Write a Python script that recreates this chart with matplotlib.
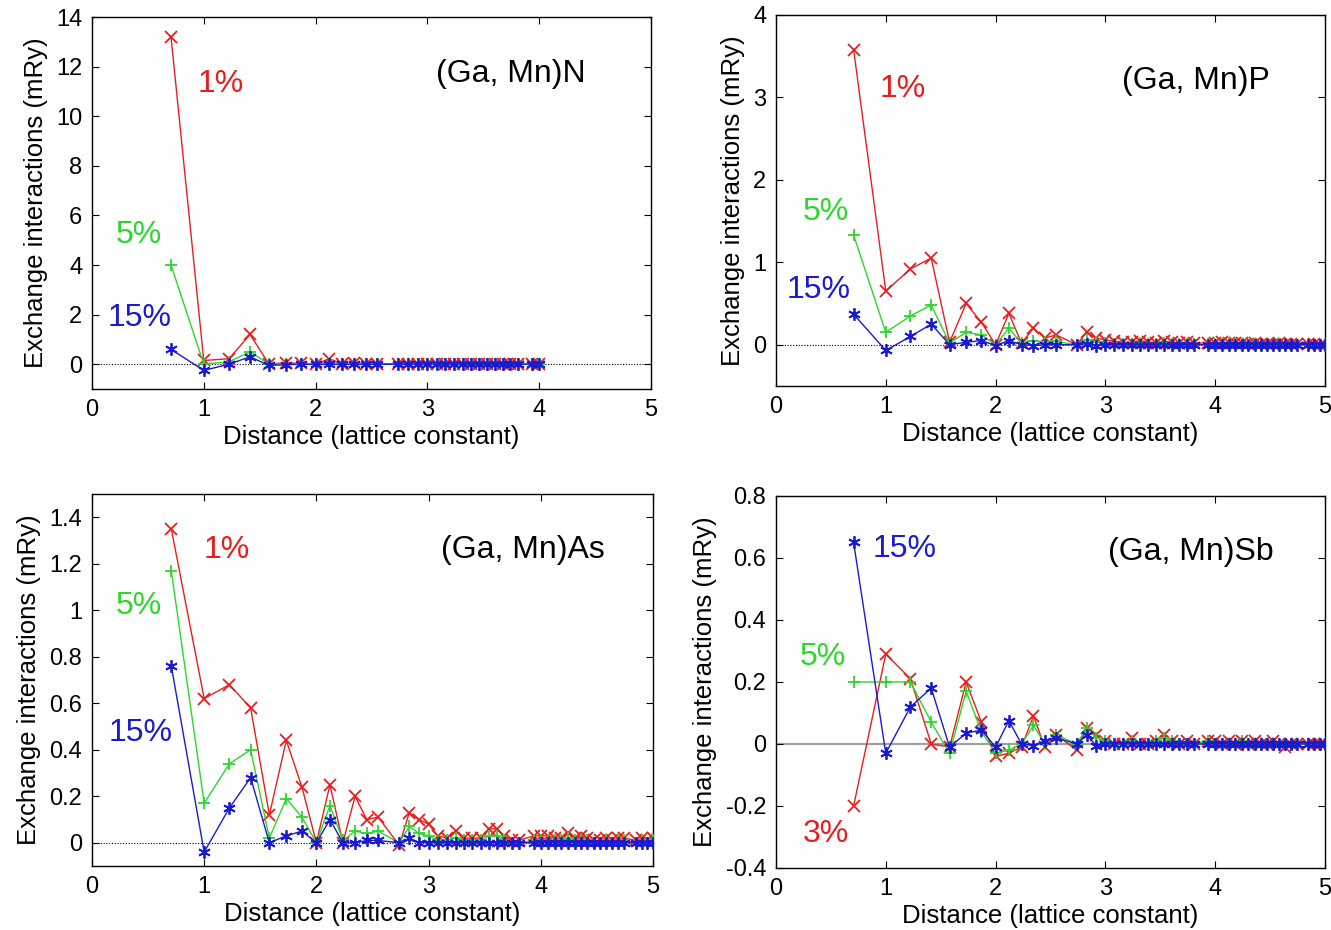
import matplotlib
matplotlib.use("Agg")
import matplotlib.pyplot as plt

plt.rcParams['font.family'] = ['Liberation Sans', 'DejaVu Sans']

# neighbour-shell distances (lattice constants)
distance = [0.707, 1.000, 1.225, 1.414, 1.581, 1.732, 1.871, 2.000, 2.121, 2.236,
            2.345, 2.449, 2.550, 2.739, 2.828, 2.915, 3.000, 3.082, 3.162, 3.240,
            3.317, 3.391, 3.464, 3.536, 3.606, 3.674, 3.742, 3.808, 3.937, 4.000,
            4.062, 4.123, 4.183, 4.243, 4.301, 4.359, 4.416, 4.472, 4.528, 4.583,
            4.637, 4.690, 4.743, 4.848, 4.899, 4.950, 5.000]

# (Ga,Mn)N  (30 shells, up to 4.0)
gan_1 = [13.2, 0.15, 0.22, 1.2, 0.02, 0.05, 0.03, 0.0, 0.22, 0.02,
         0.03, 0.01, 0.02, 0.01, 0.02, 0.01, 0.0, 0.01, 0.0, 0.0,
         0.01, 0.0, 0.0, 0.0, 0.0, 0.0, 0.0, 0.0, 0.0, 0.0]
gan_5 = [4.0, 0.0, 0.1, 0.5, 0.0, 0.02, 0.01, 0.0, 0.05, 0.0,
         0.01, 0.0, 0.0, 0.0, 0.01, 0.0, 0.0, 0.0, 0.0, 0.0,
         0.0, 0.0, 0.0, 0.0, 0.0, 0.0, 0.0, 0.0, 0.0, 0.0]
gan_15 = [0.6, -0.25, 0.0, 0.3, -0.05, -0.02, 0.0, -0.01, 0.0, -0.01,
          0.0, -0.01, 0.0, 0.0, 0.0, 0.0, 0.0, 0.0, 0.0, 0.0,
          0.0, 0.0, 0.0, 0.0, 0.0, 0.0, 0.0, 0.0, 0.0, 0.0]

# (Ga,Mn)P
gap_1 = [3.58, 0.65, 0.92, 1.05, 0.03, 0.5, 0.27, 0.0, 0.38, 0.02,
         0.2, 0.08, 0.12, 0.0, 0.15, 0.08, 0.06, 0.04, 0.03, 0.03,
         0.05, 0.03, 0.02, 0.04, 0.03, 0.02, 0.03, 0.02, 0.02, 0.02,
         0.03, 0.02, 0.02, 0.02, 0.01, 0.02, 0.01, 0.01, 0.01, 0.02,
         0.01, 0.01, 0.01, 0.01, 0.01, 0.0, 0.0]
gap_5 = [1.33, 0.15, 0.35, 0.48, 0.02, 0.15, 0.12, 0.0, 0.2, 0.02,
         0.05, 0.03, 0.04, 0.0, 0.06, 0.03, 0.02, 0.01, 0.01, 0.01,
         0.02, 0.01, 0.01, 0.02, 0.01, 0.01, 0.01, 0.01, 0.01, 0.01,
         0.01, 0.01, 0.01, 0.01, 0.0, 0.01, 0.0, 0.0, 0.0, 0.01,
         0.0, 0.0, 0.0, 0.0, 0.0, 0.0, 0.0]
gap_15 = [0.37, -0.07, 0.1, 0.25, 0.0, 0.03, 0.05, -0.01, 0.05, 0.0,
          -0.01, 0.0, 0.0, 0.0, 0.01, -0.01, 0.0, 0.0, 0.0, 0.0,
          0.0, 0.0, 0.0, 0.0, 0.0, 0.0, 0.0, 0.0, 0.0, 0.0,
          0.0, 0.0, 0.0, 0.0, 0.0, 0.0, 0.0, 0.0, 0.0, 0.0,
          0.0, 0.0, 0.0, 0.0, 0.0, 0.0, 0.0]

# (Ga,Mn)As
gaas_1 = [1.35, 0.62, 0.68, 0.58, 0.12, 0.44, 0.24, 0.0, 0.25, 0.0,
          0.2, 0.1, 0.11, -0.01, 0.13, 0.1, 0.08, 0.03, 0.02, 0.05,
          0.02, 0.02, 0.02, 0.06, 0.06, 0.03, 0.01, 0.01, 0.03, 0.03,
          0.03, 0.02, 0.02, 0.04, 0.02, 0.03, 0.02, 0.01, 0.01, 0.02,
          0.01, 0.02, 0.02, 0.01, 0.02, 0.01, 0.02]
gaas_5 = [1.17, 0.17, 0.34, 0.40, 0.02, 0.19, 0.11, 0.0, 0.16, 0.01,
          0.05, 0.04, 0.05, 0.0, 0.07, 0.04, 0.03, 0.01, 0.01, 0.02,
          0.01, 0.01, 0.01, 0.03, 0.03, 0.01, 0.0, 0.0, 0.01, 0.01,
          0.01, 0.01, 0.01, 0.02, 0.01, 0.01, 0.01, 0.0, 0.0, 0.01,
          0.0, 0.01, 0.01, 0.0, 0.01, 0.0, 0.01]
gaas_15 = [0.76, -0.04, 0.15, 0.28, 0.0, 0.03, 0.05, 0.0, 0.1, 0.0,
           0.0, 0.01, 0.01, 0.0, 0.02, 0.0, 0.0, 0.0, 0.0, 0.0,
           0.0, 0.0, 0.0, 0.0, 0.0, 0.0, 0.0, 0.0, 0.0, 0.0,
           0.0, 0.0, 0.0, 0.0, 0.0, 0.0, 0.0, 0.0, 0.0, 0.0,
           0.0, 0.0, 0.0, 0.0, 0.0, 0.0, 0.0]

# (Ga,Mn)Sb
gasb_3 = [-0.2, 0.29, 0.21, 0.0, -0.01, 0.2, 0.07, -0.04, -0.03, -0.01,
          0.09, -0.01, 0.03, -0.02, 0.05, 0.03, 0.01, 0.0, 0.0, 0.02,
          0.0, 0.0, 0.01, 0.03, 0.01, 0.0, 0.01, 0.0, 0.01, 0.01,
          0.0, 0.01, 0.0, 0.01, 0.0, 0.01, 0.0, 0.0, 0.01, 0.0,
          -0.01, 0.0, 0.0, 0.0, 0.0, 0.0, 0.0]
gasb_5 = [0.2, 0.2, 0.2, 0.07, -0.03, 0.17, 0.04, -0.03, -0.02, 0.0,
          0.06, 0.0, 0.03, 0.0, 0.05, 0.02, 0.01, 0.0, 0.0, 0.01,
          0.0, 0.0, 0.01, 0.02, 0.01, 0.0, 0.0, 0.0, 0.01, 0.0,
          0.0, 0.0, 0.0, 0.01, 0.0, 0.0, 0.0, 0.0, 0.0, 0.0,
          0.0, 0.0, 0.0, 0.0, 0.0, 0.0, 0.0]
gasb_15 = [0.65, -0.03, 0.12, 0.18, -0.01, 0.035, 0.045, -0.01, 0.075, 0.0,
           -0.005, 0.01, 0.02, 0.0, 0.03, -0.005, 0.0, 0.0, 0.0, 0.0,
           0.0, 0.0, 0.0, 0.0, 0.0, 0.0, 0.0, 0.0, 0.0, 0.0,
           0.0, 0.0, 0.0, 0.0, 0.0, 0.0, 0.0, 0.0, 0.0, 0.0,
           0.0, 0.0, 0.0, 0.0, 0.0, 0.0, 0.0]

RED, GREEN, BLUE = '#e81e1e', '#2cd62c', '#1a1ad0'
ASTER = (6, 2, 0)

fig = plt.figure(figsize=(13.31, 9.30), dpi=100)

panels = [
    dict(rect=[0.0691, 0.5817, 0.4200, 0.4000], ylim=(-1, 14), yticks=[0, 2, 4, 6, 8, 10, 12, 14],
         ytl=['0', '2', '4', '6', '8', '10', '12', '14'],
         series=[(gan_1, RED, 'x'), (gan_5, GREEN, '+'), (gan_15, BLUE, ASTER)],
         title='(Ga, Mn)N', tpos=(3.75, 11.7),
         labels=[('1%', RED, 1.15, 11.3), ('5%', GREEN, 0.42, 5.2), ('15%', BLUE, 0.43, 1.85)],
         zero='dotted'),
    dict(rect=[0.5830, 0.5850, 0.4125, 0.3990], ylim=(-0.5, 4), yticks=[0, 1, 2, 3, 4],
         ytl=['0', '1', '2', '3', '4'],
         series=[(gap_1, RED, 'x'), (gap_5, GREEN, '+'), (gap_15, BLUE, ASTER)],
         title='(Ga, Mn)P', tpos=(3.82, 3.2),
         labels=[('1%', RED, 1.15, 3.1), ('5%', GREEN, 0.45, 1.61), ('15%', BLUE, 0.39, 0.66)],
         zero='dotted'),
    dict(rect=[0.0691, 0.0688, 0.4215, 0.4000], ylim=(-0.1, 1.5),
         yticks=[0, 0.2, 0.4, 0.6, 0.8, 1.0, 1.2, 1.4],
         ytl=['0', '0.2', '0.4', '0.6', '0.8', '1', '1.2', '1.4'],
         series=[(gaas_1, RED, 'x'), (gaas_5, GREEN, '+'), (gaas_15, BLUE, ASTER)],
         title='(Ga, Mn)As', tpos=(3.84, 1.26),
         labels=[('1%', RED, 1.2, 1.26), ('5%', GREEN, 0.42, 1.02), ('15%', BLUE, 0.43, 0.47)],
         zero='dotted'),
    dict(rect=[0.5830, 0.0667, 0.4125, 0.4000], ylim=(-0.4, 0.8),
         yticks=[-0.4, -0.2, 0, 0.2, 0.4, 0.6, 0.8],
         ytl=['-0.4', '-0.2', '0', '0.2', '0.4', '0.6', '0.8'],
         series=[(gasb_3, RED, 'x'), (gasb_5, GREEN, '+'), (gasb_15, BLUE, ASTER)],
         title='(Ga, Mn)Sb', tpos=(3.78, 0.62),
         labels=[('15%', BLUE, 1.17, 0.63), ('5%', GREEN, 0.43, 0.28), ('3%', RED, 0.455, -0.29)],
         zero='gray'),
]

for p in panels:
    ax = fig.add_axes(p['rect'])
    ax.set_xlim(0, 5)
    ax.set_ylim(*p['ylim'])
    if p['zero'] == 'dotted':
        ax.axhline(0, color='black', lw=0.8, ls=(0, (1, 1.5)), zorder=1)
    else:
        ax.axhline(0, color='#a0a0a0', lw=1.6, zorder=1)
    for vals, col, mk in p['series']:
        ax.plot(distance[:len(vals)], vals, color=col, lw=1.0, marker=mk,
                markersize=9, markeredgewidth=1.3, zorder=3)
    ax.set_xticks([0, 1, 2, 3, 4, 5])
    ax.set_yticks(p['yticks'])
    ax.set_yticklabels(p['ytl'])
    ax.tick_params(direction='in', top=True, right=True, length=5, width=0.8,
                   labelsize=17, pad=7)
    for s in ax.spines.values():
        s.set_linewidth(1.0)
    ax.set_xlabel('Distance (lattice constant)', fontsize=18.5, labelpad=3)
    ax.set_ylabel('Exchange interactions (mRy)', fontsize=18.5, labelpad=6)
    ax.text(*p['tpos'], p['title'], fontsize=23, ha='center', va='center')
    for t, col, x, y in p['labels']:
        ax.text(x, y, t, color=col, fontsize=23, ha='center', va='center')

fig.savefig('out.png', dpi=100)
